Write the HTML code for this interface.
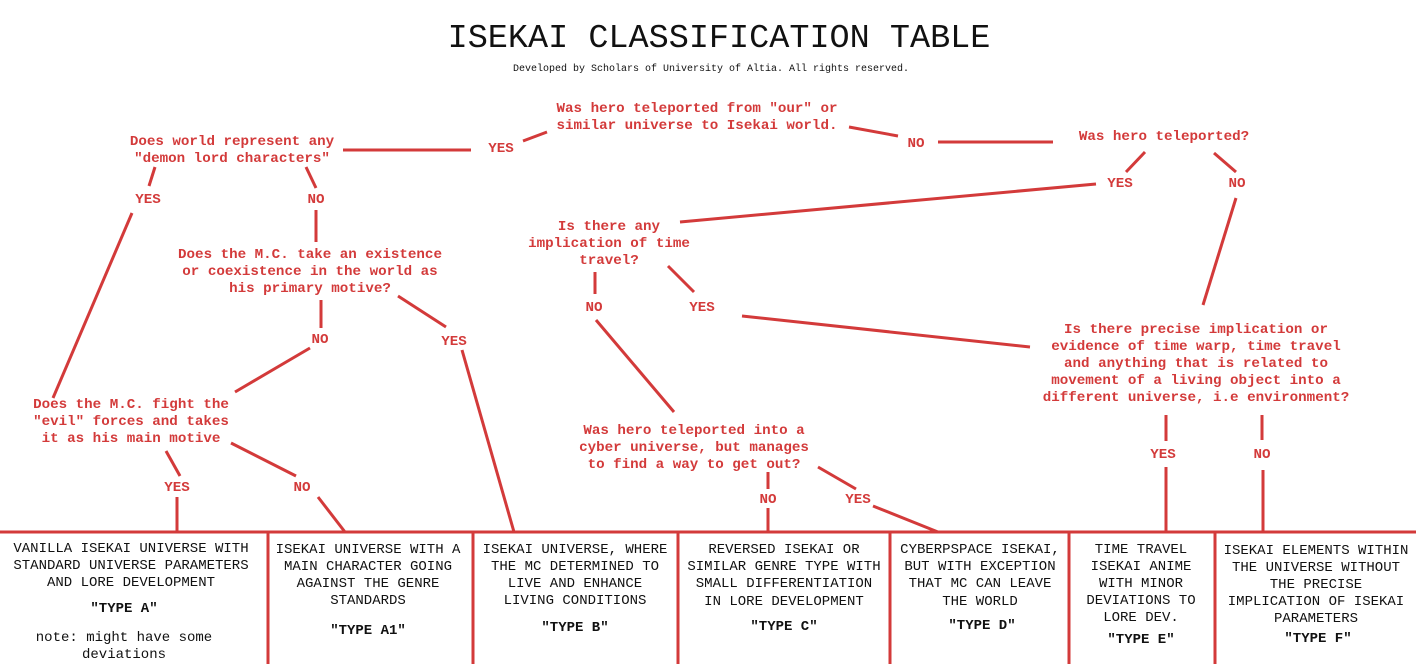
<!DOCTYPE html>
<html><head><meta charset="utf-8"><style>
html,body{margin:0;padding:0;background:#fff;}
svg{display:block;}
.r{font-family:"Liberation Mono",monospace;font-size:14.2px;font-weight:bold;fill:#d33a3a;text-anchor:middle;}
.b{font-family:"Liberation Mono",monospace;font-size:14px;fill:#111;text-anchor:middle;}
.bb{font-family:"Liberation Mono",monospace;font-size:14px;font-weight:bold;fill:#111;text-anchor:middle;}
line{stroke:#d33a3a;stroke-width:3;}
</style></head><body>
<svg width="1416" height="664" viewBox="0 0 1416 664" xmlns="http://www.w3.org/2000/svg">
<text x="719" y="47" font-family="Liberation Mono,monospace" font-size="33.5" text-anchor="middle" fill="#111">ISEKAI CLASSIFICATION TABLE</text>
<text x="711" y="71" font-family="Liberation Mono,monospace" font-size="10" text-anchor="middle" fill="#111">Developed by Scholars of University of Altia. All rights reserved.</text>

<g>
<line x1="343" y1="150" x2="471" y2="150"/>
<line x1="523" y1="141" x2="547" y2="132"/>
<line x1="849" y1="127" x2="898" y2="136"/>
<line x1="938" y1="142" x2="1053" y2="142"/>
<line x1="1145" y1="152" x2="1126" y2="172"/>
<line x1="1214" y1="153" x2="1236" y2="172"/>
<line x1="1096" y1="184" x2="680" y2="222"/>
<line x1="1236" y1="198" x2="1203" y2="305"/>
<line x1="155" y1="167" x2="149" y2="186"/>
<line x1="306" y1="167" x2="316" y2="188"/>
<line x1="132" y1="213" x2="53" y2="398"/>
<line x1="316" y1="210" x2="316" y2="242"/>
<line x1="321" y1="300" x2="321" y2="328"/>
<line x1="398" y1="296" x2="446" y2="327"/>
<line x1="310" y1="348" x2="235" y2="392"/>
<line x1="462" y1="350" x2="514" y2="532"/>
<line x1="166" y1="451" x2="180" y2="476"/>
<line x1="231" y1="443" x2="296" y2="476"/>
<line x1="177" y1="497" x2="177" y2="532"/>
<line x1="318" y1="497" x2="345" y2="532"/>
<line x1="595" y1="272" x2="595" y2="294"/>
<line x1="668" y1="266" x2="694" y2="292"/>
<line x1="596" y1="320" x2="674" y2="412"/>
<line x1="742" y1="316" x2="1030" y2="347"/>
<line x1="768" y1="472" x2="768" y2="489"/>
<line x1="818" y1="467" x2="856" y2="489"/>
<line x1="768" y1="508" x2="768" y2="532"/>
<line x1="873" y1="506" x2="938" y2="532"/>
<line x1="1166" y1="415" x2="1166" y2="441"/>
<line x1="1262" y1="415" x2="1262" y2="440"/>
<line x1="1166" y1="467" x2="1166" y2="532"/>
<line x1="1263" y1="470" x2="1263" y2="532"/>
<line x1="0" y1="532" x2="1416" y2="532"/>
<line x1="268" y1="532" x2="268" y2="664"/>
<line x1="473" y1="532" x2="473" y2="664"/>
<line x1="678" y1="532" x2="678" y2="664"/>
<line x1="890" y1="532" x2="890" y2="664"/>
<line x1="1069" y1="532" x2="1069" y2="664"/>
<line x1="1215" y1="532" x2="1215" y2="664"/>
</g>

<text class="r" x="697" y="112">Was hero teleported from "our" or</text>
<text class="r" x="697" y="129">similar universe to Isekai world.</text>
<text class="r" x="232" y="145">Does world represent any</text>
<text class="r" x="232" y="162">"demon lord characters"</text>
<text class="r" x="501" y="152">YES</text>
<text class="r" x="916" y="147">NO</text>
<text class="r" x="1164" y="140">Was hero teleported?</text>
<text class="r" x="1120" y="187">YES</text>
<text class="r" x="1237" y="187">NO</text>
<text class="r" x="148" y="203">YES</text>
<text class="r" x="316" y="203">NO</text>
<text class="r" x="310" y="258">Does the M.C. take an existence</text>
<text class="r" x="310" y="275">or coexistence in the world as</text>
<text class="r" x="310" y="292">his primary motive?</text>
<text class="r" x="609" y="230">Is there any</text>
<text class="r" x="609" y="247">implication of time</text>
<text class="r" x="609" y="264">travel?</text>
<text class="r" x="594" y="311">NO</text>
<text class="r" x="702" y="311">YES</text>
<text class="r" x="320" y="343">NO</text>
<text class="r" x="454" y="345">YES</text>
<text class="r" x="131" y="408">Does the M.C. fight the</text>
<text class="r" x="131" y="425">"evil" forces and takes</text>
<text class="r" x="131" y="442">it as his main motive</text>
<text class="r" x="177" y="491">YES</text>
<text class="r" x="302" y="491">NO</text>
<text class="r" x="1196" y="333">Is there precise implication or</text>
<text class="r" x="1196" y="350">evidence of time warp, time travel</text>
<text class="r" x="1196" y="367">and anything that is related to</text>
<text class="r" x="1196" y="384">movement of a living object into a</text>
<text class="r" x="1196" y="401">different universe, i.e environment?</text>
<text class="r" x="694" y="434">Was hero teleported into a</text>
<text class="r" x="694" y="451">cyber universe, but manages</text>
<text class="r" x="694" y="468">to find a way to get out?</text>
<text class="r" x="768" y="503">NO</text>
<text class="r" x="858" y="503">YES</text>
<text class="r" x="1163" y="458">YES</text>
<text class="r" x="1262" y="458">NO</text>

<text class="b" x="131" y="552">VANILLA ISEKAI UNIVERSE WITH</text>
<text class="b" x="131" y="569">STANDARD UNIVERSE PARAMETERS</text>
<text class="b" x="131" y="586">AND LORE DEVELOPMENT</text>
<text class="bb" x="124" y="612">"TYPE A"</text>
<text class="b" x="124" y="641">note: might have some</text>
<text class="b" x="124" y="658">deviations</text>

<text class="b" x="368" y="553">ISEKAI UNIVERSE WITH A</text>
<text class="b" x="368" y="570">MAIN CHARACTER  GOING</text>
<text class="b" x="368" y="587">AGAINST THE GENRE</text>
<text class="b" x="368" y="604">STANDARDS</text>
<text class="bb" x="368" y="634">"TYPE A1"</text>

<text class="b" x="575" y="553">ISEKAI UNIVERSE, WHERE</text>
<text class="b" x="575" y="570">THE MC DETERMINED TO</text>
<text class="b" x="575" y="587">LIVE AND ENHANCE</text>
<text class="b" x="575" y="604">LIVING CONDITIONS</text>
<text class="bb" x="575" y="631">"TYPE B"</text>

<text class="b" x="784" y="553">REVERSED ISEKAI OR</text>
<text class="b" x="784" y="570">SIMILAR GENRE TYPE WITH</text>
<text class="b" x="784" y="587">SMALL DIFFERENTIATION</text>
<text class="b" x="784" y="605">IN LORE DEVELOPMENT</text>
<text class="bb" x="784" y="630">"TYPE C"</text>

<text class="b" x="980" y="553">CYBERPSPACE ISEKAI,</text>
<text class="b" x="980" y="570">BUT WITH EXCEPTION</text>
<text class="b" x="980" y="587">THAT MC CAN LEAVE</text>
<text class="b" x="980" y="605">THE WORLD</text>
<text class="bb" x="982" y="629">"TYPE D"</text>

<text class="b" x="1141" y="553">TIME TRAVEL</text>
<text class="b" x="1141" y="570">ISEKAI ANIME</text>
<text class="b" x="1141" y="587">WITH MINOR</text>
<text class="b" x="1141" y="604">DEVIATIONS TO</text>
<text class="b" x="1141" y="621">LORE DEV.</text>
<text class="bb" x="1141" y="643">"TYPE E"</text>

<text class="b" x="1316" y="554">ISEKAI ELEMENTS WITHIN</text>
<text class="b" x="1316" y="571">THE UNIVERSE WITHOUT</text>
<text class="b" x="1316" y="588">THE PRECISE</text>
<text class="b" x="1316" y="605">IMPLICATION OF ISEKAI</text>
<text class="b" x="1316" y="622">PARAMETERS</text>
<text class="bb" x="1318" y="642">"TYPE F"</text>
</svg>
</body></html>
